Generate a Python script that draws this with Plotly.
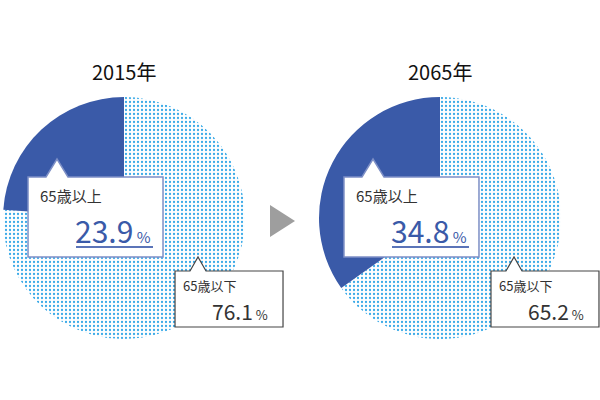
import plotly.graph_objects as go

# data
years = ["2015年", "2065年"]
labels = ["65歳以上", "65歳以下"]
over65 = [23.9, 34.8]
under65 = [76.1, 65.2]

W, H = 600, 400
FONT = "Noto Sans CJK JP"
DARK_BLUE = "#3a5aa8"
DOT_BLUE = "#3aaae8"


def px(x):
    return x / W


def py(y):
    return 1 - y / H


def box_path(x0, y0, x1, y1, ax, bw, ay):
    # rectangle with a small pointer notch on the top edge
    pts = [(x0, y0), (ax - bw, y0), (ax, ay), (ax + bw, y0), (x1, y0), (x1, y1), (x0, y1)]
    return "M " + " L ".join(f"{px(a):.4f},{py(b):.4f}" for a, b in pts) + " Z"


def label(x, y, text, size, color, xanchor="left"):
    return dict(x=px(x), y=py(y), xref="paper", yref="paper",
                xanchor=xanchor, yanchor="middle", text=text, showarrow=False,
                font=dict(family=FONT, size=size, color=color))


fig = go.Figure()
shapes = []
annotations = []

for i, year in enumerate(years):
    off = i * 316
    cx = 124 + off
    r = 121
    # under-65 first so the 65+ slice ends at 12 o'clock on the left side
    fig.add_trace(go.Pie(
        labels=[labels[1], labels[0]],
        values=[under65[i], over65[i]],
        sort=False,
        direction="clockwise",
        rotation=0,
        textinfo="none",
        hoverinfo="skip",
        showlegend=False,
        domain=dict(x=[px(cx - r), px(cx + r)], y=[py(218 + r), py(218 - r)]),
        marker=dict(
            colors=["white", DARK_BLUE],
            line=dict(width=0),
            pattern=dict(shape=[".", ""], fgcolor=DOT_BLUE, bgcolor="white",
                         size=4, solidity=0.25),
        ),
    ))

    # year title
    annotations.append(label(cx, 71, year, 20, "#111", "center"))

    # callout for 65+
    shapes.append(dict(type="path", xref="paper", yref="paper",
                       path=box_path(28 + off, 177, 163 + off, 257, 57 + off, 11, 159),
                       fillcolor="white", line=dict(color="#7d8fc6", width=1.5)))
    annotations.append(label(38 + off, 195, labels[0], 15, "#333"))
    annotations.append(label(153 + off, 230,
                             f"{over65[i]:.1f}<span style='font-size:15px'> %</span>",
                             30, DARK_BLUE, "right"))
    shapes.append(dict(type="line", xref="paper", yref="paper",
                       x0=px(76 + off), x1=px(153 + off), y0=py(247), y1=py(247),
                       line=dict(color="#5b74b8", width=2)))

    # callout for under 65
    shapes.append(dict(type="path", xref="paper", yref="paper",
                       path=box_path(175 + off, 271, 283 + off, 327, 198 + off, 8, 257),
                       fillcolor="white", line=dict(color="#444", width=1.2)))
    annotations.append(label(181 + off, 285, labels[1], 13, "#333"))
    annotations.append(label(270 + off, 311,
                             f"{under65[i]:.1f}<span style='font-size:13px'> %</span>",
                             21, "#333", "right"))

# arrow between the two pies
shapes.append(dict(type="path", xref="paper", yref="paper",
                   path=f"M {px(270)},{py(205)} L {px(270)},{py(237)} L {px(295)},{py(221)} Z",
                   fillcolor="#9e9e9e", line=dict(width=0)))

fig.update_layout(
    width=W, height=H,
    margin=dict(l=0, r=0, t=0, b=0),
    paper_bgcolor="white",
    plot_bgcolor="white",
    shapes=shapes,
    annotations=annotations,
)

fig.write_html("out.html", config={"displayModeBar": False},
               post_script="document.body.style.margin = '0';")
